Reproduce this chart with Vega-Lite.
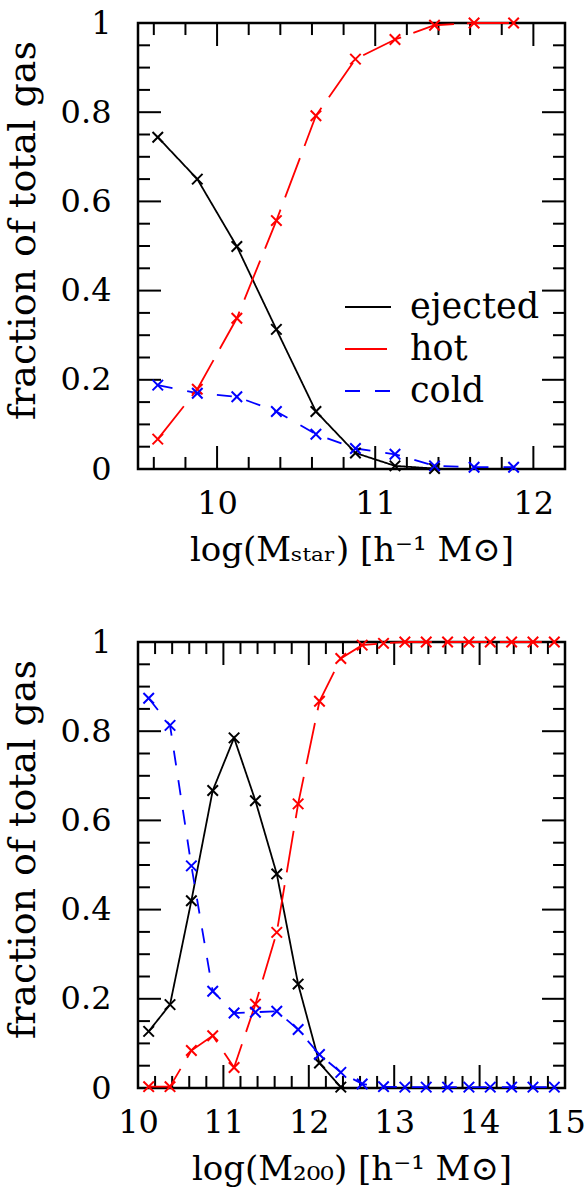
{
  "$schema": "https://vega.github.io/schema/vega-lite/v6.json",
  "padding": {"left": 2, "top": 5, "right": 2, "bottom": 5},
  "config": {
    "view": {"stroke": "black", "strokeWidth": 2.5},
    "font": "DejaVu Serif",
    "axis": {
      "domain": false, "ticks": false,
      "labelColor": "black", "titleColor": "black",
      "labelFont": "DejaVu Serif", "titleFont": "DejaVu Serif",
      "labelFontSize": 32, "titleFontSize": 34, "titleFontWeight": "normal",
      "grid": false, "labelFlush": false, "labelOverlap": false
    }
  },
  "datasets": {
    "star": [
      {"series": "ejected", "x": 9.625, "y": 0.744},
      {"series": "ejected", "x": 9.875, "y": 0.650},
      {"series": "ejected", "x": 10.125, "y": 0.499},
      {"series": "ejected", "x": 10.375, "y": 0.313},
      {"series": "ejected", "x": 10.625, "y": 0.129},
      {"series": "ejected", "x": 10.875, "y": 0.036},
      {"series": "ejected", "x": 11.125, "y": 0.007},
      {"series": "ejected", "x": 11.375, "y": 0.001},
      {"series": "hot", "x": 9.625, "y": 0.067},
      {"series": "hot", "x": 9.875, "y": 0.179},
      {"series": "hot", "x": 10.125, "y": 0.338},
      {"series": "hot", "x": 10.375, "y": 0.557},
      {"series": "hot", "x": 10.625, "y": 0.792},
      {"series": "hot", "x": 10.875, "y": 0.919},
      {"series": "hot", "x": 11.125, "y": 0.963},
      {"series": "hot", "x": 11.375, "y": 0.995},
      {"series": "hot", "x": 11.625, "y": 1.0},
      {"series": "hot", "x": 11.875, "y": 1.0},
      {"series": "cold", "x": 9.625, "y": 0.188},
      {"series": "cold", "x": 9.875, "y": 0.170},
      {"series": "cold", "x": 10.125, "y": 0.162},
      {"series": "cold", "x": 10.375, "y": 0.129},
      {"series": "cold", "x": 10.625, "y": 0.078},
      {"series": "cold", "x": 10.875, "y": 0.046},
      {"series": "cold", "x": 11.125, "y": 0.033},
      {"series": "cold", "x": 11.375, "y": 0.007},
      {"series": "cold", "x": 11.625, "y": 0.004},
      {"series": "cold", "x": 11.875, "y": 0.004}
    ],
    "m200": [
      {"series": "ejected", "x": 10.125, "y": 0.127},
      {"series": "ejected", "x": 10.375, "y": 0.187},
      {"series": "ejected", "x": 10.625, "y": 0.420},
      {"series": "ejected", "x": 10.875, "y": 0.667},
      {"series": "ejected", "x": 11.125, "y": 0.785},
      {"series": "ejected", "x": 11.375, "y": 0.644},
      {"series": "ejected", "x": 11.625, "y": 0.480},
      {"series": "ejected", "x": 11.875, "y": 0.233},
      {"series": "ejected", "x": 12.125, "y": 0.056},
      {"series": "ejected", "x": 12.375, "y": 0.002},
      {"series": "hot", "x": 10.125, "y": 0.003},
      {"series": "hot", "x": 10.375, "y": 0.003},
      {"series": "hot", "x": 10.625, "y": 0.084},
      {"series": "hot", "x": 10.875, "y": 0.117},
      {"series": "hot", "x": 11.125, "y": 0.046},
      {"series": "hot", "x": 11.375, "y": 0.188},
      {"series": "hot", "x": 11.625, "y": 0.349},
      {"series": "hot", "x": 11.875, "y": 0.637},
      {"series": "hot", "x": 12.125, "y": 0.867},
      {"series": "hot", "x": 12.375, "y": 0.963},
      {"series": "hot", "x": 12.625, "y": 0.993},
      {"series": "hot", "x": 12.875, "y": 0.997},
      {"series": "hot", "x": 13.125, "y": 1.0},
      {"series": "hot", "x": 13.375, "y": 1.0},
      {"series": "hot", "x": 13.625, "y": 1.0},
      {"series": "hot", "x": 13.875, "y": 1.0},
      {"series": "hot", "x": 14.125, "y": 1.0},
      {"series": "hot", "x": 14.375, "y": 1.0},
      {"series": "hot", "x": 14.625, "y": 1.0},
      {"series": "hot", "x": 14.875, "y": 1.0},
      {"series": "cold", "x": 10.125, "y": 0.874},
      {"series": "cold", "x": 10.375, "y": 0.813},
      {"series": "cold", "x": 10.625, "y": 0.498},
      {"series": "cold", "x": 10.875, "y": 0.217},
      {"series": "cold", "x": 11.125, "y": 0.168},
      {"series": "cold", "x": 11.375, "y": 0.170},
      {"series": "cold", "x": 11.625, "y": 0.172},
      {"series": "cold", "x": 11.875, "y": 0.131},
      {"series": "cold", "x": 12.125, "y": 0.075},
      {"series": "cold", "x": 12.375, "y": 0.035},
      {"series": "cold", "x": 12.625, "y": 0.009},
      {"series": "cold", "x": 12.875, "y": 0.003},
      {"series": "cold", "x": 13.125, "y": 0.002},
      {"series": "cold", "x": 13.375, "y": 0.002},
      {"series": "cold", "x": 13.625, "y": 0.002},
      {"series": "cold", "x": 13.875, "y": 0.002},
      {"series": "cold", "x": 14.125, "y": 0.002},
      {"series": "cold", "x": 14.375, "y": 0.002},
      {"series": "cold", "x": 14.625, "y": 0.002},
      {"series": "cold", "x": 14.875, "y": 0.002}
    ],
    "star_xticks": [
      {"v": 9.6, "kind": "minor"}, {"v": 9.8, "kind": "minor"}, {"v": 10, "kind": "major"},
      {"v": 10.2, "kind": "minor"}, {"v": 10.4, "kind": "minor"}, {"v": 10.6, "kind": "minor"}, {"v": 10.8, "kind": "minor"},
      {"v": 11, "kind": "major"},
      {"v": 11.2, "kind": "minor"}, {"v": 11.4, "kind": "minor"}, {"v": 11.6, "kind": "minor"}, {"v": 11.8, "kind": "minor"},
      {"v": 12, "kind": "major"}
    ],
    "m200_xticks": [
      {"v": 10.2, "kind": "minor"}, {"v": 10.4, "kind": "minor"}, {"v": 10.6, "kind": "minor"}, {"v": 10.8, "kind": "minor"},
      {"v": 11, "kind": "major"},
      {"v": 11.2, "kind": "minor"}, {"v": 11.4, "kind": "minor"}, {"v": 11.6, "kind": "minor"}, {"v": 11.8, "kind": "minor"},
      {"v": 12, "kind": "major"},
      {"v": 12.2, "kind": "minor"}, {"v": 12.4, "kind": "minor"}, {"v": 12.6, "kind": "minor"}, {"v": 12.8, "kind": "minor"},
      {"v": 13, "kind": "major"},
      {"v": 13.2, "kind": "minor"}, {"v": 13.4, "kind": "minor"}, {"v": 13.6, "kind": "minor"}, {"v": 13.8, "kind": "minor"},
      {"v": 14, "kind": "major"},
      {"v": 14.2, "kind": "minor"}, {"v": 14.4, "kind": "minor"}, {"v": 14.6, "kind": "minor"}, {"v": 14.8, "kind": "minor"}
    ],
    "yticks": [
      {"v": 0.05, "kind": "minor"}, {"v": 0.1, "kind": "minor"}, {"v": 0.15, "kind": "minor"}, {"v": 0.2, "kind": "major"},
      {"v": 0.25, "kind": "minor"}, {"v": 0.3, "kind": "minor"}, {"v": 0.35, "kind": "minor"}, {"v": 0.4, "kind": "major"},
      {"v": 0.45, "kind": "minor"}, {"v": 0.5, "kind": "minor"}, {"v": 0.55, "kind": "minor"}, {"v": 0.6, "kind": "major"},
      {"v": 0.65, "kind": "minor"}, {"v": 0.7, "kind": "minor"}, {"v": 0.75, "kind": "minor"}, {"v": 0.8, "kind": "major"},
      {"v": 0.85, "kind": "minor"}, {"v": 0.9, "kind": "minor"}, {"v": 0.95, "kind": "minor"}
    ]
  },
  "spacing": 55,
  "resolve": {"legend": {"color": "independent", "strokeDash": "independent"}},
  "vconcat": [
    {
      "width": 427,
      "height": 446,
      "resolve": {"axis": {"x": "independent", "y": "independent"}},
      "layer": [
        {
          "data": {"name": "star_xticks"},
          "transform": [{"filter": "datum.kind === 'major'"}],
          "mark": {"type": "bar", "color": "black", "width": 2},
          "encoding": {
            "x": {"field": "v", "type": "quantitative", "axis": null},
            "y": {"datum": 0.0516, "axis": null}, "y2": {"datum": 0.00001}
          }
        },
        {
          "data": {"name": "star_xticks"},
          "transform": [{"filter": "datum.kind === 'minor'"}],
          "mark": {"type": "bar", "color": "black", "width": 2},
          "encoding": {
            "x": {"field": "v", "type": "quantitative", "axis": null},
            "y": {"datum": 0.027, "axis": null}, "y2": {"datum": 0.00001}
          }
        },
        {
          "data": {"name": "star_xticks"},
          "transform": [{"filter": "datum.kind === 'major'"}],
          "mark": {"type": "bar", "color": "black", "width": 2},
          "encoding": {
            "x": {"field": "v", "type": "quantitative", "axis": null},
            "y": {"datum": 0.9484, "axis": null}, "y2": {"datum": 1}
          }
        },
        {
          "data": {"name": "star_xticks"},
          "transform": [{"filter": "datum.kind === 'minor'"}],
          "mark": {"type": "bar", "color": "black", "width": 2},
          "encoding": {
            "x": {"field": "v", "type": "quantitative", "axis": null},
            "y": {"datum": 0.973, "axis": null}, "y2": {"datum": 1}
          }
        },
        {
          "data": {"name": "yticks"},
          "transform": [{"filter": "datum.kind === 'major'"}],
          "mark": {"type": "bar", "color": "black", "height": 2},
          "encoding": {
            "y": {"field": "v", "type": "quantitative", "axis": null},
            "x": {"datum": 9.5, "axis": null}, "x2": {"datum": 9.6456}
          }
        },
        {
          "data": {"name": "yticks"},
          "transform": [{"filter": "datum.kind === 'minor'"}],
          "mark": {"type": "bar", "color": "black", "height": 2},
          "encoding": {
            "y": {"field": "v", "type": "quantitative", "axis": null},
            "x": {"datum": 9.5, "axis": null}, "x2": {"datum": 9.576}
          }
        },
        {
          "data": {"name": "yticks"},
          "transform": [{"filter": "datum.kind === 'major'"}],
          "mark": {"type": "bar", "color": "black", "height": 2},
          "encoding": {
            "y": {"field": "v", "type": "quantitative", "axis": null},
            "x": {"datum": 12.0544, "axis": null}, "x2": {"datum": 12.2}
          }
        },
        {
          "data": {"name": "yticks"},
          "transform": [{"filter": "datum.kind === 'minor'"}],
          "mark": {"type": "bar", "color": "black", "height": 2},
          "encoding": {
            "y": {"field": "v", "type": "quantitative", "axis": null},
            "x": {"datum": 12.124, "axis": null}, "x2": {"datum": 12.2}
          }
        },
        {
          "data": {"name": "star"},
          "mark": {"type": "line", "strokeWidth": 1.8},
          "encoding": {
            "x": {"field": "x", "type": "quantitative",
              "scale": {"domain": [9.5, 12.2], "nice": false, "zero": false, "padding": 0},
              "axis": {"orient": "bottom", "values": [10, 11, 12], "labelPadding": 19,
                "title": "log(Mₛₜₐᵣ) [h⁻¹ M⊙]", "titlePadding": 14}},
            "y": {"field": "y", "type": "quantitative",
              "scale": {"domain": [0, 1], "nice": false, "zero": false, "padding": 0},
              "axis": {"orient": "left", "values": [0, 0.2, 0.4, 0.6, 0.8, 1], "format": ".1~f", "labelPadding": 27,
                "title": "fraction of total gas", "titleFontSize": 38, "titlePadding": 18, "titleY": 207}},
            "color": {"field": "series", "type": "nominal",
              "scale": {"domain": ["ejected", "hot", "cold"], "range": ["#000000", "#ff0000", "#0000ff"]},
              "legend": {"orient": "none", "legendX": 206, "legendY": 260, "title": null, "symbolType": "stroke",
                "symbolSize": 2116, "symbolStrokeWidth": 2, "labelFont": "DejaVu Serif", "labelFontSize": 35,
                "labelColor": "black", "labelOffset": 18, "rowPadding": -6}},
            "strokeDash": {"field": "series", "type": "nominal",
              "scale": {"domain": ["ejected", "hot", "cold"], "range": [[1, 0], [42, 13], [15, 15]]},
              "legend": {"orient": "none", "legendX": 206, "legendY": 260, "title": null, "symbolType": "stroke",
                "symbolSize": 2116, "symbolStrokeWidth": 2, "labelFont": "DejaVu Serif", "labelFontSize": 35,
                "labelColor": "black", "labelOffset": 18, "rowPadding": -6}}
          }
        },
        {
          "data": {"name": "star"},
          "mark": {"type": "point", "shape": "M-1,-1L1,1M-1,1L1,-1", "filled": false, "strokeWidth": 2, "size": 110, "opacity": 1},
          "encoding": {
            "x": {"field": "x", "type": "quantitative", "axis": null},
            "y": {"field": "y", "type": "quantitative", "axis": null},
            "color": {"field": "series", "type": "nominal", "legend": null}
          }
        }
      ]
    },
    {
      "width": 427,
      "height": 446,
      "resolve": {"axis": {"x": "independent", "y": "independent"}},
      "layer": [
        {
          "data": {"name": "m200_xticks"},
          "transform": [{"filter": "datum.kind === 'major'"}],
          "mark": {"type": "bar", "color": "black", "width": 2},
          "encoding": {
            "x": {"field": "v", "type": "quantitative", "axis": null},
            "y": {"datum": 0.0516, "axis": null}, "y2": {"datum": 0.00001}
          }
        },
        {
          "data": {"name": "m200_xticks"},
          "transform": [{"filter": "datum.kind === 'minor'"}],
          "mark": {"type": "bar", "color": "black", "width": 2},
          "encoding": {
            "x": {"field": "v", "type": "quantitative", "axis": null},
            "y": {"datum": 0.027, "axis": null}, "y2": {"datum": 0.00001}
          }
        },
        {
          "data": {"name": "m200_xticks"},
          "transform": [{"filter": "datum.kind === 'major'"}],
          "mark": {"type": "bar", "color": "black", "width": 2},
          "encoding": {
            "x": {"field": "v", "type": "quantitative", "axis": null},
            "y": {"datum": 0.9484, "axis": null}, "y2": {"datum": 1}
          }
        },
        {
          "data": {"name": "m200_xticks"},
          "transform": [{"filter": "datum.kind === 'minor'"}],
          "mark": {"type": "bar", "color": "black", "width": 2},
          "encoding": {
            "x": {"field": "v", "type": "quantitative", "axis": null},
            "y": {"datum": 0.973, "axis": null}, "y2": {"datum": 1}
          }
        },
        {
          "data": {"name": "yticks"},
          "transform": [{"filter": "datum.kind === 'major'"}],
          "mark": {"type": "bar", "color": "black", "height": 2},
          "encoding": {
            "y": {"field": "v", "type": "quantitative", "axis": null},
            "x": {"datum": 10.00001, "axis": null}, "x2": {"datum": 10.269}
          }
        },
        {
          "data": {"name": "yticks"},
          "transform": [{"filter": "datum.kind === 'minor'"}],
          "mark": {"type": "bar", "color": "black", "height": 2},
          "encoding": {
            "y": {"field": "v", "type": "quantitative", "axis": null},
            "x": {"datum": 10.00001, "axis": null}, "x2": {"datum": 10.14}
          }
        },
        {
          "data": {"name": "yticks"},
          "transform": [{"filter": "datum.kind === 'major'"}],
          "mark": {"type": "bar", "color": "black", "height": 2},
          "encoding": {
            "y": {"field": "v", "type": "quantitative", "axis": null},
            "x": {"datum": 14.731, "axis": null}, "x2": {"datum": 15}
          }
        },
        {
          "data": {"name": "yticks"},
          "transform": [{"filter": "datum.kind === 'minor'"}],
          "mark": {"type": "bar", "color": "black", "height": 2},
          "encoding": {
            "y": {"field": "v", "type": "quantitative", "axis": null},
            "x": {"datum": 14.86, "axis": null}, "x2": {"datum": 15}
          }
        },
        {
          "data": {"name": "m200"},
          "mark": {"type": "line", "strokeWidth": 1.8},
          "encoding": {
            "x": {"field": "x", "type": "quantitative",
              "scale": {"domain": [10, 15], "nice": false, "zero": false, "padding": 0},
              "axis": {"orient": "bottom", "values": [10, 11, 12, 13, 14, 15], "labelPadding": 19,
                "title": "log(M₂₀₀) [h⁻¹ M⊙]", "titlePadding": 14}},
            "y": {"field": "y", "type": "quantitative",
              "scale": {"domain": [0, 1], "nice": false, "zero": false, "padding": 0},
              "axis": {"orient": "left", "values": [0, 0.2, 0.4, 0.6, 0.8, 1], "format": ".1~f", "labelPadding": 27,
                "title": "fraction of total gas", "titleFontSize": 38, "titlePadding": 18, "titleY": 207}},
            "color": {"field": "series", "type": "nominal",
              "scale": {"domain": ["ejected", "hot", "cold"], "range": ["#000000", "#ff0000", "#0000ff"]},
              "legend": null},
            "strokeDash": {"field": "series", "type": "nominal",
              "scale": {"domain": ["ejected", "hot", "cold"], "range": [[1, 0], [42, 13], [15, 15]]},
              "legend": null}
          }
        },
        {
          "data": {"name": "m200"},
          "mark": {"type": "point", "shape": "M-1,-1L1,1M-1,1L1,-1", "filled": false, "strokeWidth": 2, "size": 110, "opacity": 1},
          "encoding": {
            "x": {"field": "x", "type": "quantitative", "axis": null},
            "y": {"field": "y", "type": "quantitative", "axis": null},
            "color": {"field": "series", "type": "nominal", "legend": null}
          }
        }
      ]
    }
  ]
}
